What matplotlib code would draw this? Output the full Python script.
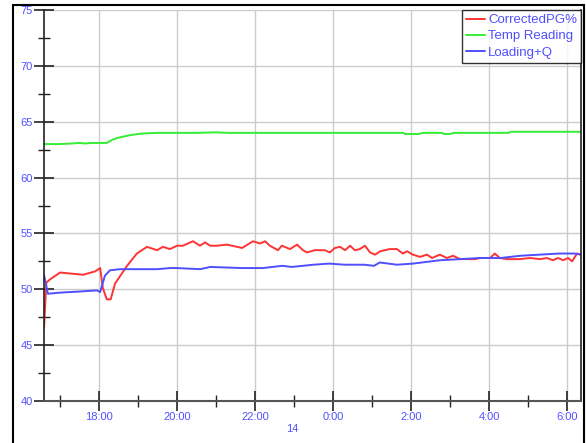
import matplotlib
matplotlib.use("Agg")
import matplotlib.pyplot as plt
from matplotlib.patches import Rectangle
from matplotlib.ticker import MultipleLocator

plt.rcParams["font.family"] = ["Liberation Sans", "DejaVu Sans"]

# time in hours (values past 24 are after midnight)
red_t = [16.59, 16.65, 16.75, 17.0, 17.3, 17.59, 17.9, 18.03, 18.10, 18.2, 18.3, 18.41,
         18.72, 18.97, 19.23, 19.49, 19.64, 19.82, 20.0, 20.15, 20.41, 20.59, 20.72, 20.85,
         21.03, 21.28, 21.67, 21.95, 22.13, 22.26, 22.38, 22.59, 22.69, 22.90, 23.08, 23.23,
         23.33, 23.54, 23.79, 23.92, 24.05, 24.18, 24.31, 24.44, 24.56, 24.69, 24.82, 24.95,
         25.08, 25.21, 25.46, 25.64, 25.79, 25.90, 26.05, 26.23, 26.41, 26.54, 26.74, 26.92,
         27.08, 27.26, 27.44, 27.64, 27.77, 28.03, 28.15, 28.28, 28.46, 28.67, 28.79, 29.05,
         29.31, 29.49, 29.64, 29.77, 29.90, 30.03, 30.13, 30.26, 30.36]
red_v = [46.5, 50.6, 50.9, 51.5, 51.4, 51.3, 51.6, 51.9, 50.1, 49.1, 49.1, 50.5,
         52.1, 53.2, 53.8, 53.5, 53.8, 53.6, 53.9, 53.9, 54.3, 53.9, 54.2, 53.9,
         53.9, 54.0, 53.7, 54.3, 54.1, 54.3, 53.9, 53.5, 53.9, 53.6, 54.0, 53.5,
         53.3, 53.5, 53.5, 53.3, 53.7, 53.8, 53.5, 53.9, 53.5, 53.6, 53.9, 53.3,
         53.1, 53.4, 53.6, 53.6, 53.2, 53.4, 53.1, 52.9, 53.1, 52.8, 53.1, 52.8,
         53.0, 52.7, 52.7, 52.7, 52.8, 52.8, 53.2, 52.8, 52.7, 52.7, 52.7, 52.8,
         52.7, 52.8, 52.6, 52.8, 52.6, 52.8, 52.5, 53.2, 53.1]

green_t = [16.59, 17.0, 17.3, 17.5, 17.65, 17.8, 18.0, 18.2, 18.35, 18.53, 18.67, 18.8,
           19.0, 19.15, 19.5, 20.5, 21.0, 21.3, 22.5, 24.0, 25.8, 25.85, 26.2, 26.3,
           26.8, 26.85, 27.0, 27.1, 28.5, 28.55, 30.36]
green_v = [63.0, 63.0, 63.05, 63.1, 63.05, 63.1, 63.1, 63.1, 63.4, 63.6, 63.7, 63.8,
           63.9, 63.95, 64.0, 64.0, 64.05, 64.0, 64.0, 64.0, 64.0, 63.9, 63.9, 64.0,
           64.0, 63.9, 63.9, 64.0, 64.0, 64.1, 64.1]

blue_t = [16.59, 16.69, 17.0, 17.5, 17.95, 18.03, 18.15, 18.28, 18.54, 19.0, 19.5, 19.82,
          20.0, 20.6, 20.85, 21.67, 22.2, 22.7, 22.95, 23.5, 23.9, 24.3, 24.8, 25.05,
          25.2, 25.64, 26.05, 26.74, 27.26, 27.77, 28.3, 28.8, 29.3, 29.8, 30.2, 30.36]
blue_v = [51.3, 49.6, 49.7, 49.8, 49.9, 49.75, 51.2, 51.7, 51.8, 51.8, 51.8, 51.9,
          51.9, 51.8, 52.0, 51.9, 51.9, 52.1, 52.0, 52.2, 52.3, 52.2, 52.2, 52.1,
          52.4, 52.2, 52.3, 52.6, 52.7, 52.8, 52.8, 53.0, 53.1, 53.2, 53.2, 53.1]

x_ticks = [18, 20, 22, 24, 26, 28, 30]
x_labels = ["18:00", "20:00", "22:00", "0:00", "2:00", "4:00", "6:00"]
y_ticks = [40, 45, 50, 55, 60, 65, 70, 75]
date_label = "14"

label_col = "#5050ff"

fig = plt.figure(figsize=(5.86, 4.43), dpi=100)
ax = fig.add_axes([44 / 586, (443 - 401) / 443, (581 - 44) / 586, (401 - 10) / 443])

line_kw = dict(lw=1.4, solid_joinstyle="round", solid_capstyle="round")
ax.plot(red_t, red_v, color="#ff3333", label="CorrectedPG%", **line_kw)
ax.plot(green_t, green_v, color="#33ee33", label="Temp Reading", **line_kw)
ax.plot(blue_t, blue_v, color="#4f4fff", label="Loading+Q", **line_kw)

ax.set_xlim(16.59, 30.36)
ax.set_ylim(40, 75)
ax.set_xticks(x_ticks)
ax.set_xticklabels(x_labels)
ax.set_yticks(y_ticks)
ax.xaxis.set_minor_locator(MultipleLocator(1))
ax.yaxis.set_minor_locator(MultipleLocator(2.5))
ax.grid(True, which="major", color="#cccccc", lw=1)
ax.set_axisbelow(True)

ax.tick_params(which="major", direction="inout", length=14, width=1.2, color="#222222",
               labelsize=8, labelcolor=label_col, pad=1)
ax.tick_params(which="minor", direction="inout", length=8, width=1, color="#222222")
ax.spines["top"].set_visible(False)
ax.spines["left"].set_color("#222222")
ax.spines["bottom"].set_color("#555555")
ax.spines["left"].set_linewidth(1.2)
ax.spines["bottom"].set_linewidth(1.5)
ax.spines["right"].set_color("#222222")
ax.spines["right"].set_linewidth(1.2)

# date label below the tick labels
ax.text(22.95, 37.9, date_label, color=label_col, fontsize=8, ha="center", va="top")

leg = ax.legend(loc="upper right", fontsize=9.5, frameon=True, fancybox=False,
                handlelength=1.5, handletextpad=0.2, borderpad=0.3, labelspacing=0.3,
                borderaxespad=0.0)
leg.get_frame().set_edgecolor("black")
leg.get_frame().set_linewidth(1)
for t in leg.get_texts():
    t.set_color(label_col)

# outer frame
fig.patches.append(Rectangle((13 / 586, -0.05), (584 - 13) / 586, (443 - 5) / 443 + 0.05,
                             transform=fig.transFigure, fill=False, edgecolor="black", lw=1.5))

fig.savefig("out.png", dpi=100)
